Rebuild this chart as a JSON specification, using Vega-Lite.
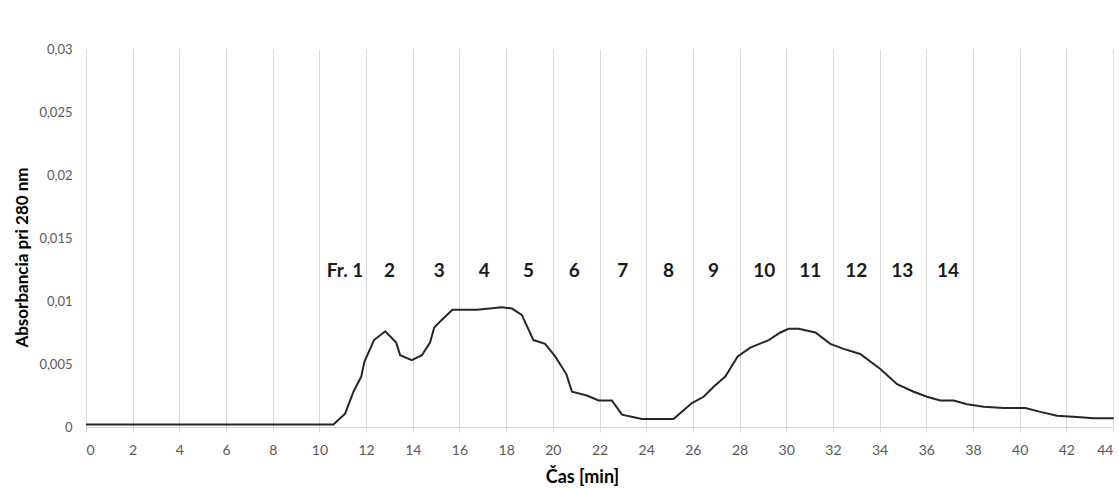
{
  "$schema": "https://vega.github.io/schema/vega-lite/v6.json",
  "width": 1027,
  "height": 378,
  "autosize": {"type": "none"},
  "padding": {"left": 86, "top": 49, "right": 6, "bottom": 61},
  "background": "white",
  "config": {"view": {"stroke": null}, "font": "Lato"},
  "datasets": {
    "curve": [
      {"t": 0, "a": 0.0002}, {"t": 10.6, "a": 0.0002}, {"t": 11.1, "a": 0.00106}, {"t": 11.46, "a": 0.0028},
      {"t": 11.79, "a": 0.004}, {"t": 11.93, "a": 0.0052}, {"t": 12.34, "a": 0.0069}, {"t": 12.82, "a": 0.0076},
      {"t": 13.29, "a": 0.0067}, {"t": 13.46, "a": 0.0057}, {"t": 13.96, "a": 0.0053}, {"t": 14.39, "a": 0.0057},
      {"t": 14.74, "a": 0.0067}, {"t": 14.92, "a": 0.0079}, {"t": 15.24, "a": 0.0085}, {"t": 15.7, "a": 0.0093},
      {"t": 16.74, "a": 0.0093}, {"t": 17.3, "a": 0.0094}, {"t": 17.79, "a": 0.0095}, {"t": 18.25, "a": 0.0094},
      {"t": 18.67, "a": 0.0089}, {"t": 19.17, "a": 0.0069}, {"t": 19.67, "a": 0.0066}, {"t": 20.1, "a": 0.0056},
      {"t": 20.58, "a": 0.0042}, {"t": 20.82, "a": 0.0028}, {"t": 21.46, "a": 0.0025}, {"t": 21.96, "a": 0.0021},
      {"t": 22.53, "a": 0.0021}, {"t": 22.96, "a": 0.00098}, {"t": 23.82, "a": 0.00063}, {"t": 25.17, "a": 0.00063},
      {"t": 25.96, "a": 0.0019}, {"t": 26.46, "a": 0.0024}, {"t": 26.89, "a": 0.0032}, {"t": 27.39, "a": 0.004},
      {"t": 27.92, "a": 0.0056}, {"t": 28.46, "a": 0.0063}, {"t": 29.25, "a": 0.0069}, {"t": 29.75, "a": 0.0075},
      {"t": 30.1, "a": 0.0078}, {"t": 30.53, "a": 0.0078}, {"t": 31.25, "a": 0.0075}, {"t": 31.89, "a": 0.0066},
      {"t": 32.46, "a": 0.0062}, {"t": 33.17, "a": 0.0058}, {"t": 34.03, "a": 0.0046}, {"t": 34.75, "a": 0.0034},
      {"t": 35.46, "a": 0.0028}, {"t": 36.03, "a": 0.0024}, {"t": 36.6, "a": 0.0021}, {"t": 37.17, "a": 0.0021},
      {"t": 37.75, "a": 0.0018}, {"t": 38.46, "a": 0.0016}, {"t": 39.32, "a": 0.0015}, {"t": 40.25, "a": 0.0015},
      {"t": 40.89, "a": 0.0012}, {"t": 41.6, "a": 0.0009}, {"t": 42.46, "a": 0.0008}, {"t": 43.18, "a": 0.0007},
      {"t": 44.03, "a": 0.0007}
    ],
    "labels": [
      {"t": 11.1, "a": 0.0124, "label": "Fr. 1"}, {"t": 13.0, "a": 0.0124, "label": "2"},
      {"t": 15.13, "a": 0.0124, "label": "3"}, {"t": 17.06, "a": 0.0124, "label": "4"},
      {"t": 18.96, "a": 0.0124, "label": "5"}, {"t": 20.92, "a": 0.0124, "label": "6"},
      {"t": 23.0, "a": 0.0124, "label": "7"}, {"t": 24.96, "a": 0.0124, "label": "8"},
      {"t": 26.89, "a": 0.0124, "label": "9"}, {"t": 29.06, "a": 0.0124, "label": "10"},
      {"t": 31.03, "a": 0.0124, "label": "11"}, {"t": 33.0, "a": 0.0124, "label": "12"},
      {"t": 34.97, "a": 0.0124, "label": "13"}, {"t": 36.93, "a": 0.0124, "label": "14"}
    ]
  },
  "layer": [
    {
      "data": {"name": "curve"},
      "mark": {"type": "line", "color": "#262626", "strokeWidth": 2, "clip": false},
      "encoding": {
        "x": {
          "field": "t", "type": "quantitative",
          "scale": {"domain": [0, 44], "nice": false, "zero": false},
          "axis": {
            "values": [0,2,4,6,8,10,12,14,16,18,20,22,24,26,28,30,32,34,36,38,40,42,44],
            "title": "Čas [min]",
            "titleFont": "Lato", "titleFontSize": 18, "titleFontWeight": "bold", "titleColor": "#000000",
            "titleX": 496, "titleY": 50, "titleBaseline": "middle",
            "grid": true, "gridColor": "#d9d9d9", "gridWidth": 1,
            "domain": true, "domainColor": "#d9d9d9", "domainWidth": 1,
            "ticks": true, "tickColor": "#d9d9d9", "tickSize": 5,
            "labelFont": "Lato", "labelFontSize": 14, "labelColor": "#595959", "labelPadding": 11
          }
        },
        "y": {
          "field": "a", "type": "quantitative",
          "scale": {"domain": [0, 0.03], "nice": false},
          "axis": {
            "values": [0, 0.005, 0.01, 0.015, 0.02, 0.025, 0.03],
            "labelExpr": "replace(toString(datum.value), '.', ',')",
            "title": "Absorbancia pri 280 nm",
            "titleFont": "Lato", "titleFontSize": 17, "titleFontWeight": "bold", "titleColor": "#000000",
            "titleY": 208, "titleX": -55,
            "grid": false, "domain": false, "ticks": false,
            "labelFont": "Lato", "labelFontSize": 13, "labelColor": "#595959", "labelPadding": 14
          }
        }
      }
    },
    {
      "data": {"name": "labels"},
      "mark": {"type": "text", "font": "Lato", "fontSize": 19, "fontWeight": "bold", "color": "#1a1a1a", "align": "center", "baseline": "middle"},
      "encoding": {
        "x": {"field": "t", "type": "quantitative"},
        "y": {"field": "a", "type": "quantitative"},
        "text": {"field": "label"}
      }
    }
  ]
}
